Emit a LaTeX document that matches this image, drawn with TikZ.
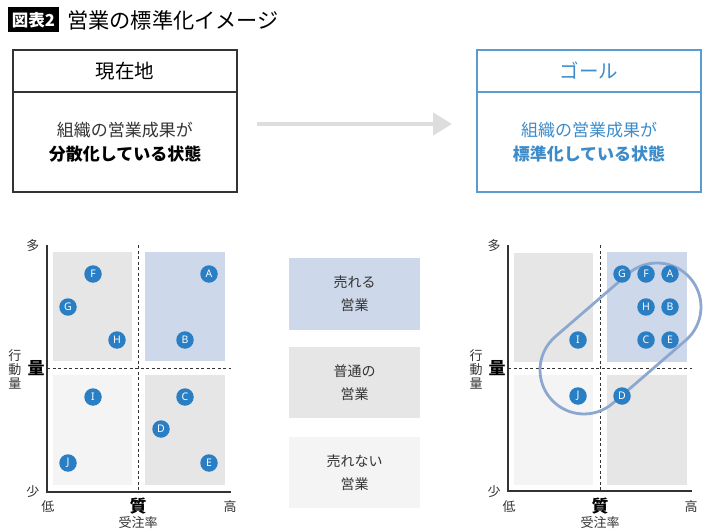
\documentclass[tikz,border=0pt]{standalone}
\usepackage{fontspec}
\usetikzlibrary{arrows.meta}
\setmainfont{Noto Sans CJK JP}
\newfontfamily\latn{Noto Sans}
\definecolor{blueq}{HTML}{CDD9EA}
\definecolor{grayq}{HTML}{E6E6E6}
\definecolor{lightq}{HTML}{F4F4F4}
\definecolor{dotc}{HTML}{2A7EC3}
\definecolor{goalc}{HTML}{5A9BD0}
\definecolor{goalt}{HTML}{3D8BC9}
\definecolor{arrowc}{HTML}{DDDDDD}
\definecolor{capc}{HTML}{8DA8CF}
\definecolor{ink}{HTML}{333333}
\tikzset{
  fs/.style={font=\fontsize{#1}{#1}\selectfont},
  quad/.style={draw=none, inner sep=0pt, minimum width=79pt, minimum height=109pt},
  dot/.style={circle, fill=dotc, inner sep=0pt, minimum size=17.5pt, text=white, font=\latn\fontsize{10.5}{10.5}\selectfont},
  axis/.style={draw=ink, line width=1.3pt},
  dline/.style={draw=ink, line width=1pt, dash pattern=on 3pt off 2.5pt},
  lbl/.style={text=ink, font=\fontsize{13}{13}\selectfont, inner sep=0pt},
  bigl/.style={text=black, font=\bfseries\fontsize{17}{17}\selectfont, inner sep=0pt},
  legend/.style={inner sep=0pt, minimum width=131pt, minimum height=71pt, align=center, text=ink, font=\fontsize{14}{23}\selectfont},
  hdr/.style={minimum width=224pt, minimum height=42pt, line width=1.2pt, inner sep=0pt, font=\fontsize{19.5}{19.5}\selectfont},
  bodybox/.style={minimum width=224pt, minimum height=100pt, line width=1.2pt, inner sep=0pt, align=center, font=\fontsize{17}{24.5}\selectfont},
}
\begin{document}
\begin{tikzpicture}[x=1pt,y=-1pt]
\useasboundingbox (0,0) rectangle (710,532);
% title
\node[fill=black, text=white, inner sep=0pt, minimum width=51pt, minimum height=25pt, font=\bfseries\fontsize{16.5}{16.5}\selectfont] (tag) at (33.5,20) {図表2};
\node[anchor=west, inner sep=0pt, fs=21.2] (title) at (67,20) {営業の標準化イメージ};
% top boxes
\node[hdr, draw=ink, text=black] (curh) at (125,71) {現在地};
\node[bodybox, draw=ink, text=ink] (curb) at (125,142) {組織の営業成果が\\{\bfseries\color{black}分散化している状態}};
\node[hdr, draw=goalc, text=goalt] (goalh) at (589,71) {ゴール};
\node[bodybox, draw=goalc, text=goalt] (goalb) at (589,142) {組織の営業成果が\\{\bfseries 標準化している状態}};
\coordinate (as) at (257,124);
\coordinate (ae) at (452,124);
\draw[arrowc, line width=4.5pt, -{Triangle[length=19pt,width=22pt]}] (as) -- (ae);

% ---------- left chart ----------
\node[quad, fill=grayq] (l1) at (92.5,306.5) {};
\node[quad, fill=blueq, minimum width=80pt] (l2) at (185,306.5) {};
\node[quad, fill=lightq, minimum height=110pt] (l3) at (92.5,430) {};
\node[quad, fill=grayq, minimum width=80pt, minimum height=110pt] (l4) at (185,430) {};
\draw[dline] (138,245) -- (138,492);
\draw[dline] (47,368) -- (231,368);
\draw[axis] (47,245) -- (47,492) -- (231,492);
\node[dot] (lF) at (93,274) {F};
\node[dot] (lG) at (68,307) {G};
\node[dot] (lH) at (117,340) {H};
\node[dot] (lA) at (209,274) {A};
\node[dot] (lB) at (185,340) {B};
\node[dot] (lI) at (93,397) {I};
\node[dot] (lJ) at (68,463) {J};
\node[dot] (lC) at (185,397) {C};
\node[dot] (lD) at (161,429) {D};
\node[dot] (lE) at (209,463) {E};
\node[lbl] (lmany) at (33,246) {多};
\node[lbl] (lfew) at (33,492) {少};
\node[lbl] (llow) at (48,507) {低};
\node[bigl] (lq) at (138,506) {質};
\node[lbl] (lhigh) at (230,507) {高};
\node[lbl] (lrate) at (138,523) {受注率};
\node[lbl, align=center, font=\fontsize{13}{14}\selectfont] (lact) at (15,369) {行\\動\\量};
\node[bigl] (lvol) at (36,368) {量};

% ---------- legend ----------
\node[legend, fill=blueq, minimum height=72pt] (g1) at (354.5,294) {売れる\\営業};
\node[legend, fill=grayq] (g2) at (354.5,382.5) {普通の\\営業};
\node[legend, fill=lightq] (g3) at (354.5,472.5) {売れない\\営業};

% ---------- right chart ----------
\node[quad, fill=grayq] (r1) at (553.5,307) {};
\node[quad, fill=blueq, minimum width=80pt, minimum height=110pt] (r2) at (647,307) {};
\node[quad, fill=lightq, minimum height=110pt] (r3) at (553.5,430) {};
\node[quad, fill=grayq, minimum width=80pt, minimum height=110pt] (r4) at (647,430) {};
\draw[dline] (600,245) -- (600,491);
\draw[dline] (508,368) -- (692,368);
\draw[axis] (508,245) -- (508,491) -- (692,491);
\draw[capc, line width=2.8pt, rounded corners=44pt, rotate around={40.8:(620.5,338.5)}]
  (528.3,294.5) rectangle (712.7,382.5);
\node[dot] (rG) at (622,274) {G};
\node[dot] (rF) at (646,274) {F};
\node[dot] (rA) at (670,274) {A};
\node[dot] (rH) at (646,307) {H};
\node[dot] (rB) at (670,307) {B};
\node[dot] (rC) at (646,340) {C};
\node[dot] (rE) at (670,340) {E};
\node[dot] (rI) at (578,340) {I};
\node[dot] (rJ) at (578,396) {J};
\node[dot] (rD) at (622,396) {D};
\node[lbl] (rmany) at (494,246) {多};
\node[lbl] (rfew) at (494,492) {少};
\node[lbl] (rlow) at (509,507) {低};
\node[bigl] (rq) at (600,506) {質};
\node[lbl] (rhigh) at (691,507) {高};
\node[lbl] (rrate) at (600,523) {受注率};
\node[lbl, align=center, font=\fontsize{13}{14}\selectfont] (ract) at (476,369) {行\\動\\量};
\node[bigl] (rvol) at (497,368) {量};
\end{tikzpicture}
\end{document}
